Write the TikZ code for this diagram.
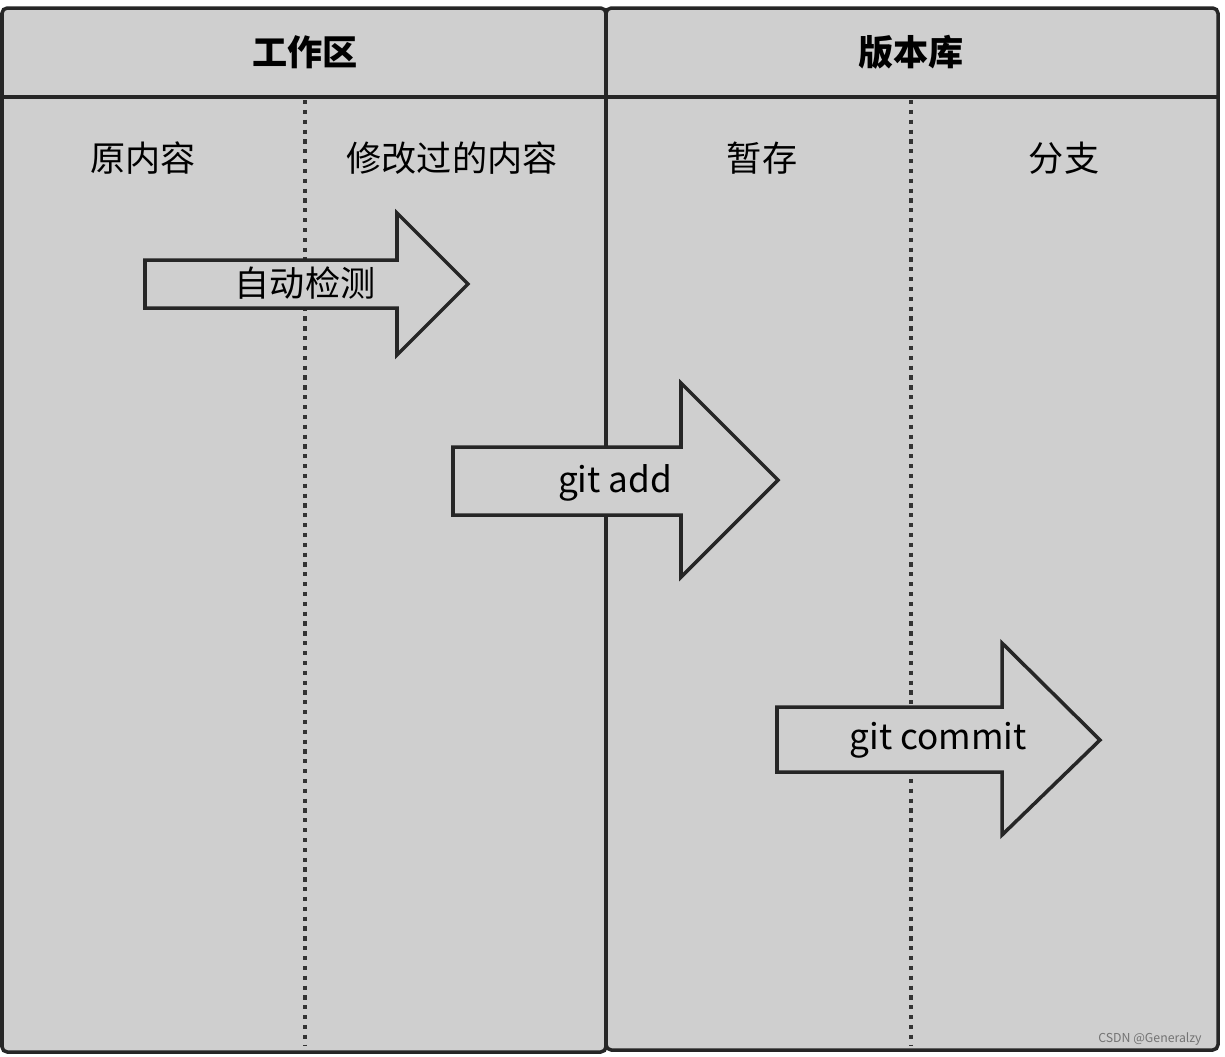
\documentclass[tikz,border=0pt]{standalone}
\usepackage{fontspec}
\setmainfont{Noto Sans CJK SC}
\begin{document}
\begin{tikzpicture}[x=0.02cm,y=-0.02cm,
  panel/.style={draw=black!85,line width=2pt,fill=black!19},
  arr/.style={draw=black!85,line width=2pt,fill=black!19,line join=miter},
  dots/.style={line width=2.6pt,dash pattern=on 2.4pt off 3.2pt,draw=black!80},
  hd/.style={font=\bfseries\fontsize{20}{24}\selectfont},
  lb/.style={font=\fontsize{20}{24}\selectfont}]
\useasboundingbox (0,0) rectangle (1225,1056);
\fill[white] (0,0) rectangle (1225,1056);
\draw[panel,rounded corners=3pt] (2,8) rectangle (606,1052);
\draw[panel,rounded corners=3pt] (606,8) rectangle (1218,1050);
\draw[line width=2pt,black!85] (2,97) -- (1218,97);
\node[hd] (h1) at (305,52) {工作区};
\node[hd] (h2) at (911,52) {版本库};
\draw[dots] (305,100) -- (305,1045);
\draw[dots] (911,100) -- (911,1045);
\node[lb] (c1) at (143,158) {原内容};
\node[lb] (c2) at (452,158) {修改过的内容};
\node[lb] (c3) at (762,158) {暂存};
\node[lb] (c4) at (1064,158) {分支};
\draw[arr] (145,260) -- (397,260) -- (397,213) -- (468,284) -- (397,355) -- (397,308) -- (145,308) -- cycle;
\node[lb] (a1) at (305,283) {自动检测};
\draw[arr] (453,447) -- (681,447) -- (681,383) -- (778,480) -- (681,577) -- (681,515) -- (453,515) -- cycle;
\node[lb] (a2) at (615,483) {git add};
\draw[arr] (777,707) -- (1002,707) -- (1002,643) -- (1100,740) -- (1002,835) -- (1002,772) -- (777,772) -- cycle;
\node[lb] (a3) at (938,740) {git commit};
\node[font=\fontsize{7}{8}\selectfont,text=black!55] (wm) at (1150,1039) {CSDN @Generalzy};
\end{tikzpicture}
\end{document}
